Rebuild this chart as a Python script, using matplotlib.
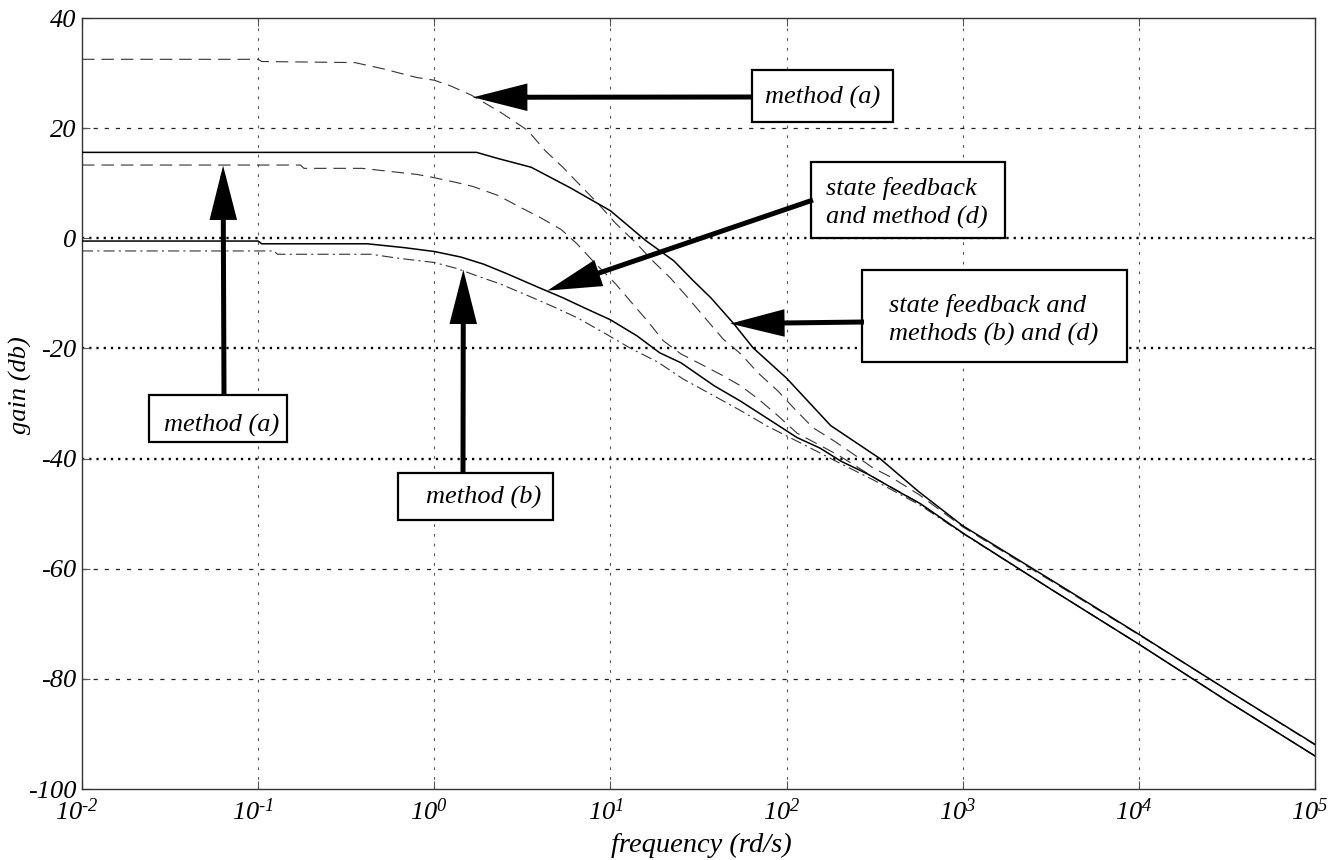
import numpy as np
import matplotlib
matplotlib.use("Agg")
import matplotlib.pyplot as plt
import matplotlib.transforms as mtransforms
from matplotlib.patches import Rectangle

plt.rcParams['font.family'] = ['Liberation Serif', 'DejaVu Serif']
plt.rcParams['font.style'] = 'italic'
plt.rcParams['mathtext.fontset'] = 'custom'
plt.rcParams['mathtext.rm'] = 'Liberation Serif:italic'
plt.rcParams['mathtext.it'] = 'Liberation Serif:italic'
plt.rcParams['lines.scale_dashes'] = False

# ---------------- data (log10 of frequency in rd/s, gain in dB) ----------------
logw_a = [-2.0, -1.0, -0.98, -0.45, -0.38, -0.28, -0.21, -0.10, 0.00, 0.09, 0.21, 0.375,
          0.53, 0.63, 0.73, 0.82, 0.93, 1.03, 1.15, 1.24, 1.34, 1.44, 1.53, 1.64, 1.74,
          1.84, 1.95, 2.04, 2.15, 2.27, 2.38, 2.49, 2.60, 2.75, 3.0, 3.5, 4.0, 4.5, 5.0]
gain_a = [32.5, 32.5, 32.1, 31.9, 31.4, 30.7, 30.1, 29.2, 28.7, 27.7, 26.0, 22.9,
          19.6, 15.9, 12.9, 9.9, 6.3, 2.7, -1.0, -4.1, -7.2, -10.8, -14.2, -18.3, -21.0,
          -24.5, -27.7, -30.8, -34.4, -36.8, -39.2, -41.7, -43.5, -46.5, -52.4, -62.2, -72.0, -82.0, -92.0]

logw_b = [-2.0, 0.24, 0.36, 0.55, 0.77, 1.0, 1.2, 1.36, 1.47, 1.57, 1.70, 1.81, 2.0,
          2.25, 2.53, 2.75, 3.0, 3.5, 4.0, 4.5, 5.0]
gain_b = [15.6, 15.6, 14.5, 12.9, 9.2, 5.0, -0.4, -4.1, -7.7, -10.8, -15.5, -19.9, -25.4,
          -34.0, -40.0, -46.0, -52.2, -62.0, -71.9, -82.0, -91.9]

logw_c = [-2.0, -0.76, -0.74, -0.41, -0.10, 0.00, 0.13, 0.22, 0.36, 0.49, 0.60, 0.72,
          0.81, 0.90, 1.03, 1.11, 1.21, 1.30, 1.40, 1.51, 1.63, 1.74, 1.84, 1.95, 2.06,
          2.19, 2.30, 2.50, 2.75, 3.0, 3.5, 4.0, 4.5, 5.0]
gain_c = [13.3, 13.3, 12.7, 12.7, 11.6, 11.0, 10.1, 9.4, 7.8, 5.6, 3.8, 1.6,
          -1.0, -4.1, -8.3, -11.3, -15.0, -18.6, -21.0, -22.8, -24.8, -26.8, -29.2, -32.2, -35.4,
          -37.6, -39.5, -43.5, -48.0, -53.5, -63.7, -73.7, -84.0, -94.0]

logw_d = [-2.0, -1.0, -0.98, -0.38, -0.17, 0.00, 0.15, 0.28, 0.41, 0.59, 0.73, 0.85,
          1.0, 1.15, 1.28, 1.40, 1.59, 1.74, 1.91, 2.06, 2.19, 2.31, 2.46, 2.63, 2.76,
          3.0, 3.5, 4.0, 4.5, 5.0]
gain_d = [-0.5, -0.5, -1.0, -1.0, -1.7, -2.4, -3.4, -4.7, -6.4, -8.9, -10.8, -12.6,
          -14.8, -17.7, -20.8, -22.6, -26.8, -29.6, -33.1, -36.2, -38.1, -40.5, -42.8, -45.9, -48.2,
          -53.5, -63.7, -73.7, -84.0, -94.0]

logw_e = [-2.0, -0.91, -0.89, -0.36, -0.21, 0.00, 0.13, 0.24, 0.375, 0.53, 0.66, 0.81,
          0.96, 1.11, 1.27, 1.41, 1.57, 1.74, 1.89, 2.10, 2.30, 2.50, 2.76, 3.0, 3.5,
          4.0, 4.5, 5.0]
gain_e = [-2.3, -2.3, -2.9, -2.9, -3.6, -4.4, -5.5, -6.8, -8.3, -10.4, -12.2, -14.4,
          -17.1, -19.9, -22.5, -25.5, -28.3, -31.3, -34.1, -37.5, -40.8, -44.0, -48.5, -53.6, -63.7,
          -73.7, -84.0, -94.0]

x_ticks = [1e-2, 1e-1, 1e0, 1e1, 1e2, 1e3, 1e4, 1e5]
x_tick_labels = [r'$10^{\text{-}2}$', r'$10^{\text{-}1}$', r'$10^{0}$', r'$10^{1}$', r'$10^{2}$',
                 r'$10^{3}$', r'$10^{4}$', r'$10^{5}$']
y_ticks = [-100, -80, -60, -40, -20, 0, 20, 40]
y_tick_labels = ['-100', '-80', '-60', '-40', '-20', '0', '20', '40']
bold_grid = [0, -20, -40]

# ---------------- figure ----------------
W, H = 1342, 860
fig = plt.figure(figsize=(W / 100, H / 100), dpi=100)
L, R, T, B = 82, 1315, 18, 789
ax = fig.add_axes([L / W, 1 - B / H, (R - L) / W, (B - T) / H])
ax.set_xscale('log')
ax.set_xlim(x_ticks[0], x_ticks[-1])
ax.set_ylim(y_ticks[0], y_ticks[-1])

# grid
for xv in x_ticks[1:-1]:
    ax.axvline(xv, color='#555555', lw=0.8, dashes=(2, 5), zorder=1)
for yv in y_ticks[1:-1]:
    if yv in bold_grid:
        ax.axhline(yv, color='black', lw=1.7, dashes=(1.6, 3.6), zorder=1)
    else:
        ax.axhline(yv, color='#222222', lw=0.9, dashes=(3, 5), zorder=1)

def f(lw):
    return 10.0 ** np.asarray(lw)

ax.plot(f(logw_a), gain_a, color='#333333', lw=0.8, dashes=(9, 5), zorder=3)
ax.plot(f(logw_c), gain_c, color='#333333', lw=0.8, dashes=(9, 5), zorder=3)
ax.plot(f(logw_e), gain_e, color='#333333', lw=0.8, dashes=(8, 3, 1.5, 3), zorder=3)
ax.plot(f(logw_b), gain_b, color='black', lw=1.1, zorder=4)
ax.plot(f(logw_d), gain_d, color='black', lw=1.1, zorder=4)

# ticks
ax.set_xticks(x_ticks)
ax.set_xticklabels(x_tick_labels)
ax.set_yticks(y_ticks)
ax.set_yticklabels(y_tick_labels)
ax.xaxis.set_minor_locator(matplotlib.ticker.NullLocator())
ax.tick_params(axis='both', direction='in', length=6, width=0.8, color='#555555',
               labelsize=19, top=True, right=True)
ax.tick_params(axis='x', pad=7)
ax.tick_params(axis='y', pad=4)
shift = mtransforms.ScaledTranslation(-5 / 100, 0, fig.dpi_scale_trans)
for lab in ax.get_xticklabels():
    lab.set_transform(lab.get_transform() + shift)
for s in ax.spines.values():
    s.set_linewidth(1.0)
    s.set_color('#333333')

fig.text(701 / W, 1 - 845 / H, 'frequency (rd/s)', ha='center', va='center', fontsize=20.5)
fig.text(20 / W, 1 - 385 / H, 'gain (db)', ha='center', va='center', rotation=90, fontsize=19)

# ---------------- annotations ----------------
def fx(px):
    return (px - L) / (R - L)

def fy(py):
    return (B - py) / (B - T)

def box(x0, y0, x1, y1):
    ax.add_patch(Rectangle((fx(x0), fy(y1)), fx(x1) - fx(x0), fy(y0) - fy(y1),
                           transform=ax.transAxes, facecolor='white', edgecolor='black',
                           lw=1.6, zorder=6))

def arrow(tip_logw, tip_db, sx, sy):
    ax.annotate('', xy=(10 ** tip_logw, tip_db), xycoords='data',
                xytext=(fx(sx), fy(sy)), textcoords='axes fraction',
                arrowprops=dict(arrowstyle='-|>,head_length=1.5,head_width=0.38',
                                mutation_scale=20, lw=3.6, color='black',
                                shrinkA=0, shrinkB=0, joinstyle='miter', capstyle='butt'),
                zorder=7)

tsize = 19
# top method (a)
box(752, 70, 893, 122)
ax.text(fx(823), fy(97), 'method (a)', transform=ax.transAxes, ha='center', va='center',
        fontsize=tsize, zorder=8)
arrow(0.22, 25.6, 752, 97)

# state feedback and method (d)
box(811, 162, 1005, 238)
ax.text(fx(826), fy(203), 'state feedback\nand method (d)', transform=ax.transAxes,
        ha='left', va='center', fontsize=tsize, linespacing=1.3, zorder=8)
arrow(0.642, -9.5, 813, 200)

# state feedback and methods (b) and (d)
box(862, 270, 1127, 362)
ax.text(fx(889), fy(320), 'state feedback and\nmethods (b) and (d)', transform=ax.transAxes,
        ha='left', va='center', fontsize=tsize, linespacing=1.3, zorder=8)
arrow(1.68, -15.5, 864, 322)

# left method (a)
box(149, 395, 287, 442)
ax.text(fx(222), fy(425), 'method (a)', transform=ax.transAxes, ha='center', va='center',
        fontsize=tsize, zorder=8)
arrow(-1.199, 13.2, 224, 396)

# method (b)
box(398, 473, 553, 520)
ax.text(fx(484), fy(497), 'method (b)', transform=ax.transAxes, ha='center', va='center',
        fontsize=tsize, zorder=8)
arrow(0.165, -5.7, 463, 474)

fig.savefig('out.png', dpi=100)
